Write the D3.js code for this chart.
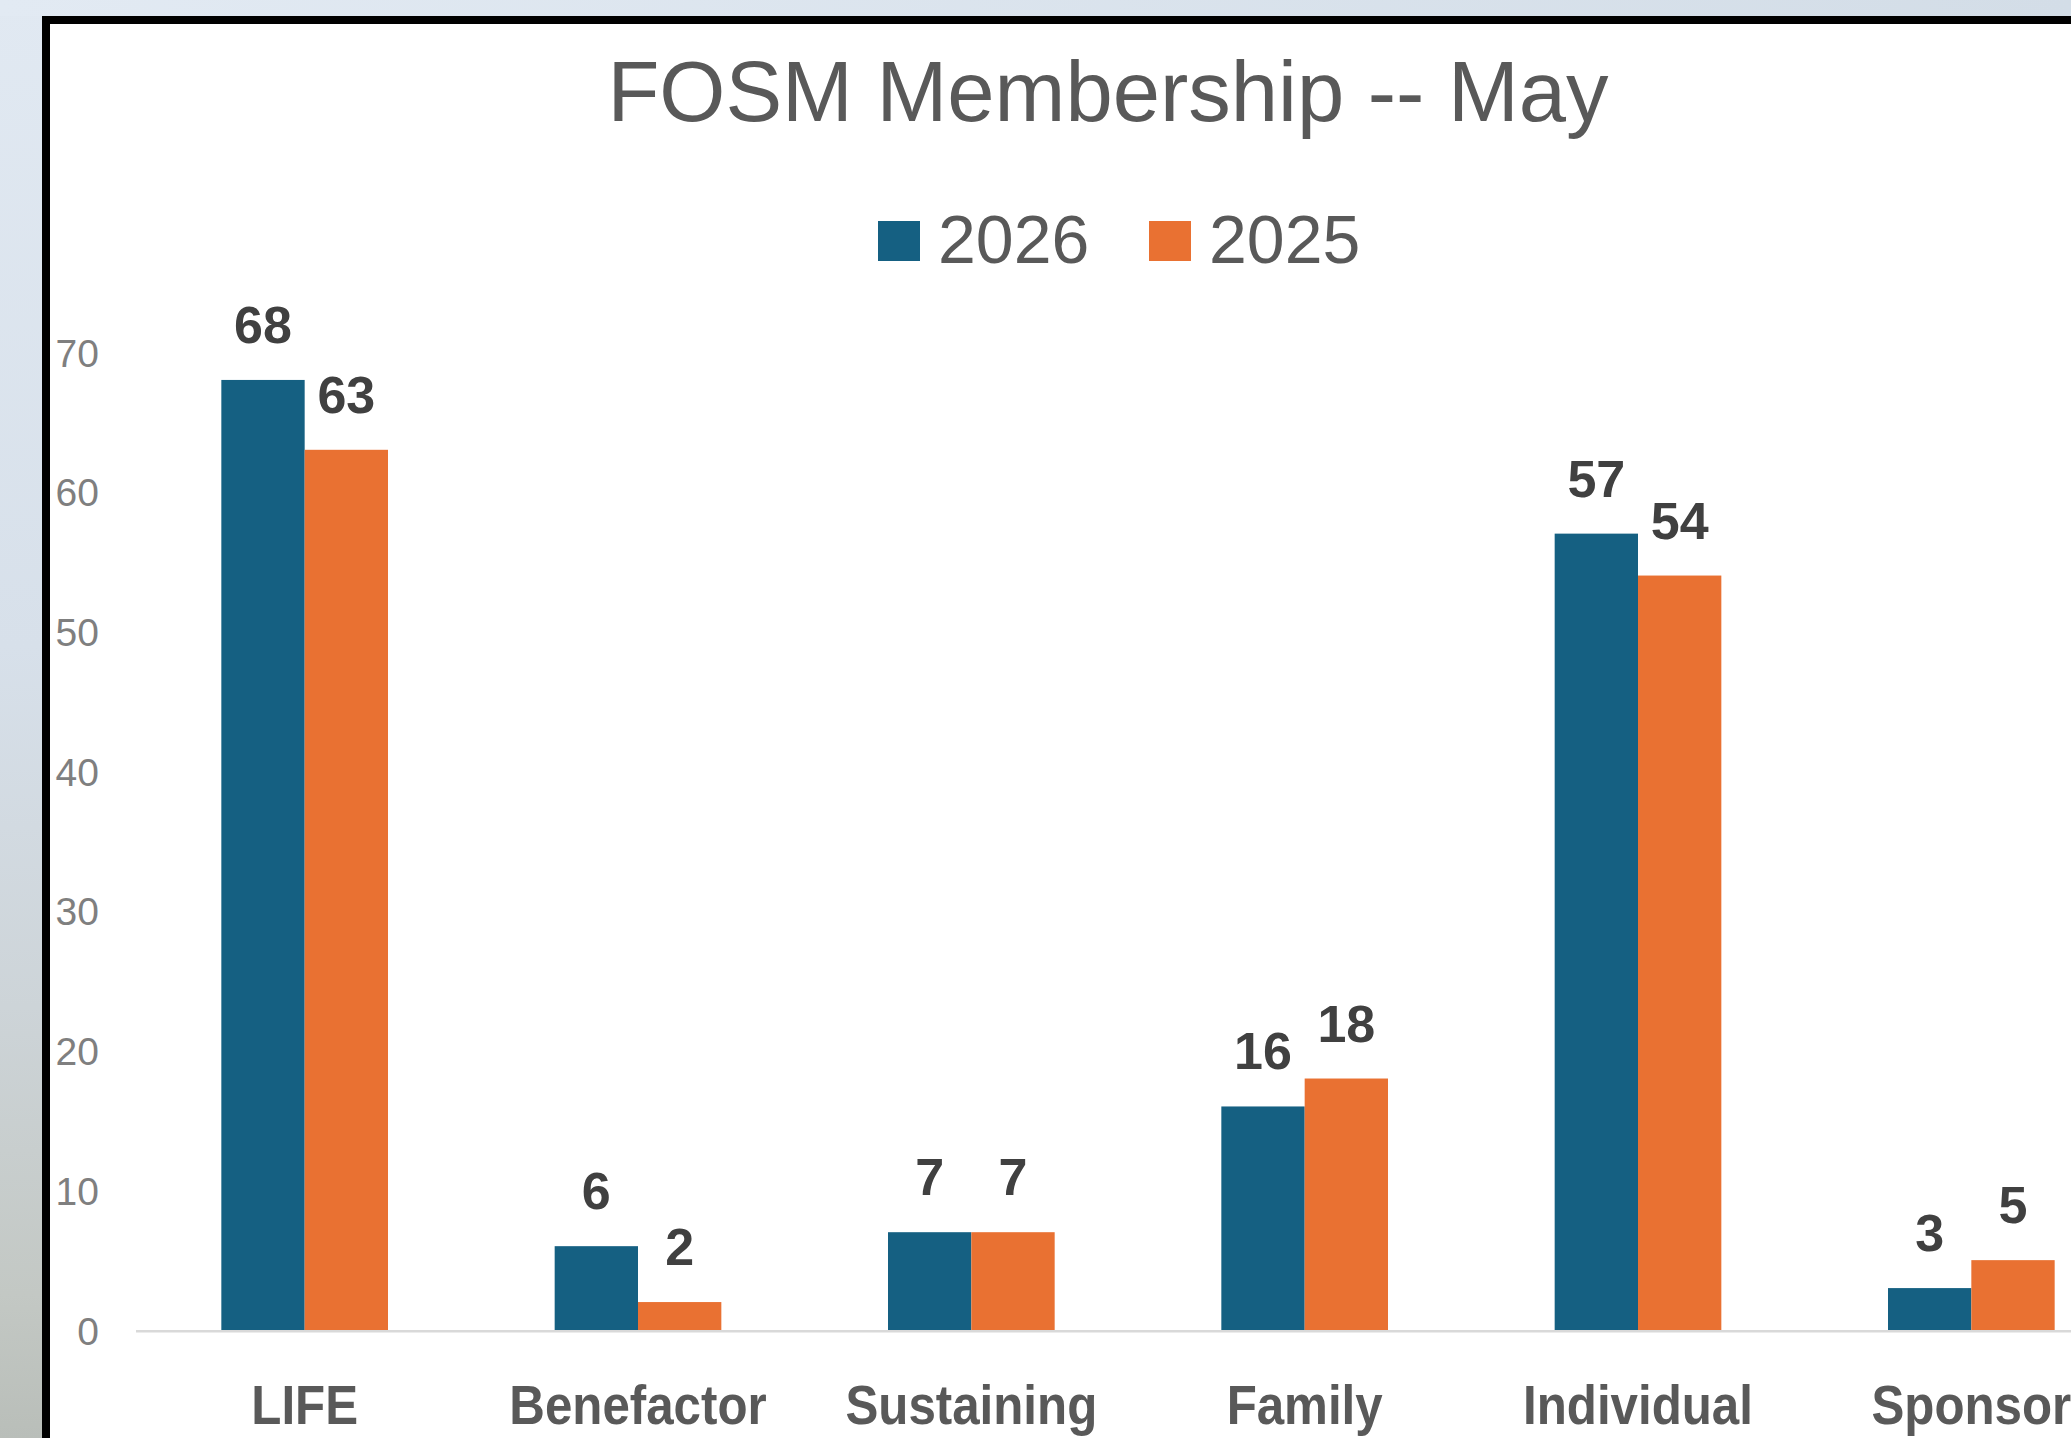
<!DOCTYPE html>
<html>
<head>
<meta charset="utf-8">
<script src="https://cdn.jsdelivr.net/npm/d3@7"></script>
<style>
  html, body { margin: 0; padding: 0; background: #dde6ef; }
  svg { display: block; }
</style>
</head>
<body>
<script>
// ---- data ----
const categories = ["LIFE", "Benefactor", "Sustaining", "Family", "Individual", "Sponsor"];
const seriesNames = ["2026", "2025"];
const values2026 = [68, 6, 7, 16, 57, 3];
const values2025 = [63, 2, 7, 18, 54, 5];
const yTickValues = [0, 10, 20, 30, 40, 50, 60, 70];
const seriesColors = ["#156082", "#E97132"];
const titleText = "FOSM Membership -- May";

const W = 2071, H = 1438;
const svg = d3.select("body").append("svg").attr("width", W).attr("height", H);

// ---- background (screenshot surround) ----
const defs = svg.append("defs");
const bg = defs.append("linearGradient").attr("id", "bgGrad").attr("x1", 0).attr("y1", 0).attr("x2", 0).attr("y2", 1);
bg.append("stop").attr("offset", "0%").attr("stop-color", "#e1e9f2");
bg.append("stop").attr("offset", "45%").attr("stop-color", "#d7e0ea");
bg.append("stop").attr("offset", "70%").attr("stop-color", "#cdd4d8");
bg.append("stop").attr("offset", "90%").attr("stop-color", "#c3c8c4");
bg.append("stop").attr("offset", "100%").attr("stop-color", "#b9beb9");
svg.append("rect").attr("x", 0).attr("y", 0).attr("width", W).attr("height", H).attr("fill", "url(#bgGrad)");
const bgTop = defs.append("linearGradient").attr("id", "bgTop").attr("x1", 0).attr("y1", 0).attr("x2", 1).attr("y2", 0);
bgTop.append("stop").attr("offset", "0%").attr("stop-color", "#e2eaf3");
bgTop.append("stop").attr("offset", "100%").attr("stop-color", "#d3dde7");
svg.append("rect").attr("x", 0).attr("y", 0).attr("width", W).attr("height", 16).attr("fill", "url(#bgTop)");

// chart frame (white with thick black border, cropped at right/bottom)
svg.append("rect")
  .attr("x", 46).attr("y", 20)
  .attr("width", W + 50).attr("height", H + 50)
  .attr("fill", "#ffffff")
  .attr("stroke", "#000000").attr("stroke-width", 8);

// ---- scales ----
const x0 = d3.scaleBand().domain(categories).range([138, 2138]).paddingInner(0.5).paddingOuter(0.25);
const x1 = d3.scaleBand().domain(seriesNames).range([0, x0.bandwidth()]).padding(0);
const y = d3.scaleLinear().domain([0, 70]).range([1330, 352]);

const rows = categories.map((c, i) => ({ cat: c, vals: [values2026[i], values2025[i]] }));

// ---- title ----
svg.append("text")
  .attr("x", 1108).attr("y", 121)
  .attr("text-anchor", "middle")
  .attr("font-family", "'Liberation Sans', Arial, sans-serif")
  .attr("font-size", 85)
  .attr("fill", "#595959")
  .text(titleText);

// ---- legend ----
const legendX = [878, 1149];
const legend = svg.append("g");
seriesNames.forEach((s, i) => {
  legend.append("rect")
    .attr("x", legendX[i]).attr("y", 221).attr("width", 42).attr("height", 40)
    .attr("fill", seriesColors[i]);
  legend.append("text")
    .attr("x", legendX[i] + 60).attr("y", 263)
    .attr("font-family", "'Liberation Sans', Arial, sans-serif")
    .attr("font-size", 68)
    .attr("fill", "#595959")
    .text(s);
});

// ---- y axis ----
const yAxis = svg.append("g").attr("transform", "translate(99,0)")
  .call(d3.axisLeft(y).tickValues(yTickValues).tickSize(0).tickPadding(0).tickFormat(d3.format("d")));
yAxis.select(".domain").remove();
yAxis.selectAll("text")
  .attr("font-family", "'Liberation Sans', Arial, sans-serif")
  .attr("font-size", 39)
  .attr("fill", "#7f7f7f")
  .attr("dy", "0.36em");

// ---- bars ----
const groups = svg.append("g").selectAll("g").data(rows).join("g")
  .attr("transform", d => `translate(${x0(d.cat)},0)`);
groups.selectAll("rect").data(d => d.vals.map((v, i) => ({ s: seriesNames[i], v, i }))).join("rect")
  .attr("x", d => x1(d.s))
  .attr("y", d => y(d.v))
  .attr("width", x1.bandwidth())
  .attr("height", d => y(0) - y(d.v))
  .attr("fill", d => seriesColors[d.i]);

// data labels
groups.selectAll("text").data(d => d.vals.map((v, i) => ({ s: seriesNames[i], v, i }))).join("text")
  .attr("x", d => x1(d.s) + x1.bandwidth() / 2)
  .attr("y", d => y(d.v) - 37)
  .attr("text-anchor", "middle")
  .attr("font-family", "'Liberation Sans', Arial, sans-serif")
  .attr("font-weight", "bold")
  .attr("font-size", 52)
  .attr("fill", "#404040")
  .text(d => d.v);

// ---- baseline ----
svg.append("line")
  .attr("x1", 136).attr("x2", W)
  .attr("y1", y(0) + 1.3).attr("y2", y(0) + 1.3)
  .attr("stroke", "#d9d9d9").attr("stroke-width", 2.6);

// ---- x axis labels ----
const xAxis = svg.append("g").attr("transform", `translate(0,${y(0)})`)
  .call(d3.axisBottom(x0).tickSize(0).tickPadding(0));
xAxis.select(".domain").remove();
xAxis.selectAll("text")
  .attr("y", 94).attr("dy", 0)
  .attr("font-family", "'Liberation Sans', Arial, sans-serif")
  .attr("font-weight", "bold")
  .attr("font-size", 56)
  .attr("fill", "#595959")
  .attr("transform", "scale(0.88,1)");
</script>
</body>
</html>
